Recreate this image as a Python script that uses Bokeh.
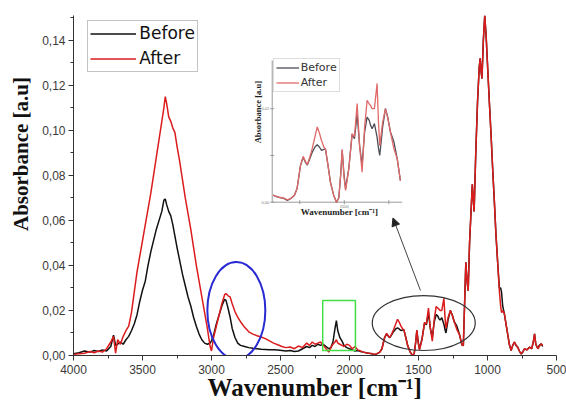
import numpy as np
from bokeh.plotting import figure
from bokeh.models import (Range1d, FixedTicker, CustomJSTickFormatter, Legend, LegendItem,
                          Label, Arrow, NormalHead)
from bokeh.core.properties import value
from bokeh.embed import file_html
from bokeh.resources import INLINE

# ---------------- data ----------------
wavenumber = [4000, 3960, 3920, 3880, 3850, 3820, 3790, 3760, 3730, 3710, 3695, 3680, 3660, 3640,
              3620, 3600, 3580, 3560, 3540, 3520, 3500, 3480, 3460, 3440, 3420, 3400, 3380, 3360,
              3345, 3335, 3325, 3310, 3295, 3280, 3265, 3250, 3230, 3210, 3190, 3170, 3150, 3130,
              3110, 3090, 3070, 3050, 3030, 3010, 3000, 2985, 2965, 2945, 2925, 2905, 2895, 2880,
              2865, 2850, 2830, 2810, 2790, 2760, 2730, 2700, 2670, 2640, 2610, 2580, 2550, 2520,
              2490, 2460, 2430, 2400, 2370, 2340, 2310, 2290, 2270, 2250, 2230, 2210, 2190, 2170,
              2150, 2135, 2120, 2105, 2095, 2085, 2070, 2055, 2040, 2020, 2000, 1980, 1960, 1940,
              1920, 1900, 1880, 1860, 1840, 1820, 1800, 1780, 1765, 1746, 1731, 1718, 1708, 1695,
              1680, 1665, 1652, 1640, 1628, 1615, 1606, 1592, 1578, 1560, 1544, 1531, 1520, 1512,
              1502, 1493, 1475, 1456, 1443, 1428, 1414, 1400, 1386, 1372, 1360, 1353, 1344, 1331,
              1316, 1308, 1301, 1285, 1269, 1255, 1241, 1222, 1203, 1185, 1175, 1165, 1157, 1148,
              1140, 1130, 1110, 1097, 1085, 1072, 1060, 1053, 1046, 1040, 1030, 1020, 1010, 999,
              987, 975, 963, 950, 939, 925, 914, 905, 898, 890, 878, 866, 854, 842, 829, 817, 805,
              793, 781, 769, 757, 745, 732, 715, 696, 680, 668, 659, 650, 635, 625, 611, 600]

before = [0.0008, 0.0012, 0.0020, 0.0015, 0.0022, 0.0018, 0.0025, 0.0020, 0.0040, 0.0090, 0.0045,
          0.0050, 0.0060, 0.0050, 0.0070, 0.0085, 0.0110, 0.0140, 0.0180, 0.0240, 0.0290, 0.0330,
          0.0400, 0.0460, 0.0510, 0.0560, 0.0600, 0.0640, 0.0690, 0.0695, 0.0670, 0.0640, 0.0620,
          0.0580, 0.0530, 0.0480, 0.0420, 0.0360, 0.0310, 0.0260, 0.0220, 0.0170, 0.0130, 0.0095,
          0.0070, 0.0055, 0.0050, 0.0055, 0.0065, 0.0090, 0.0140, 0.0180, 0.0220, 0.0250, 0.0245,
          0.0210, 0.0170, 0.0120, 0.0080, 0.0055, 0.0045, 0.0040, 0.0035, 0.0032, 0.0030, 0.0028,
          0.0027, 0.0026, 0.0025, 0.0024, 0.0022, 0.0020, 0.0022, 0.0018, 0.0020, 0.0030, 0.0040,
          0.0035, 0.0045, 0.0040, 0.0050, 0.0045, 0.0050, 0.0040, 0.0030, 0.0035, 0.0060, 0.0120,
          0.0155, 0.0110, 0.0080, 0.0065, 0.0045, 0.0035, 0.0030, 0.0025, 0.0020, 0.0022, 0.0018,
          0.0015, 0.0012, 0.0010, 0.0008, 0.0004, 0.0008, 0.0015, 0.0030, 0.0079, 0.0096, 0.0085,
          0.0079, 0.0092, 0.0107, 0.0118, 0.0123, 0.0118, 0.0111, 0.0113, 0.0114, 0.0080, 0.0043,
          0.0015, 0.0000, 0.0009, 0.0060, 0.0111, 0.0060, 0.0029, 0.0072, 0.0146, 0.0136, 0.0189,
          0.0120, 0.0080, 0.0150, 0.0182, 0.0175, 0.0165, 0.0157, 0.0168, 0.0139, 0.0115, 0.0100,
          0.0160, 0.0200, 0.0180, 0.0150, 0.0130, 0.0093, 0.0046, 0.0044, 0.0250, 0.0414, 0.0330,
          0.0288, 0.0500, 0.0760, 0.0640, 0.0900, 0.1130, 0.1280, 0.1320, 0.1260, 0.1230, 0.1400,
          0.1510, 0.1420, 0.1280, 0.1130, 0.0990, 0.0835, 0.0680, 0.0540, 0.0400, 0.0300, 0.0300,
          0.0280, 0.0220, 0.0186, 0.0140, 0.0096, 0.0050, 0.0022, 0.0045, 0.0059, 0.0045, 0.0037,
          0.0020, 0.0007, 0.0015, 0.0030, 0.0025, 0.0037, 0.0030, 0.0060, 0.0096, 0.0050, 0.0030,
          0.0045, 0.0052, 0.0040]

after = [0.0005, 0.0008, 0.0010, 0.0018, 0.0012, 0.0020, 0.0015, 0.0030, 0.0060, 0.0085, 0.0010,
         0.0070, 0.0050, 0.0085, 0.0110, 0.0130, 0.0190, 0.0280, 0.0370, 0.0440, 0.0510, 0.0580,
         0.0650, 0.0720, 0.0800, 0.0880, 0.0960, 0.1040, 0.1100, 0.1150, 0.1120, 0.1060, 0.1040,
         0.1010, 0.0990, 0.0930, 0.0860, 0.0780, 0.0700, 0.0630, 0.0560, 0.0480, 0.0400, 0.0330,
         0.0260, 0.0190, 0.0120, 0.0040, 0.0020, 0.0080, 0.0130, 0.0180, 0.0230, 0.0270, 0.0275,
         0.0265, 0.0260, 0.0230, 0.0195, 0.0170, 0.0150, 0.0125, 0.0105, 0.0095, 0.0088, 0.0082,
         0.0075, 0.0065, 0.0055, 0.0048, 0.0040, 0.0035, 0.0038, 0.0030, 0.0042, 0.0035, 0.0055,
         0.0045, 0.0060, 0.0050, 0.0055, 0.0060, 0.0045, 0.0030, 0.0015, 0.0035, 0.0050, 0.0060,
         0.0070, 0.0055, 0.0050, 0.0045, 0.0040, 0.0050, 0.0045, 0.0030, 0.0040, 0.0025, 0.0020,
         0.0015, 0.0012, 0.0010, 0.0009, 0.0005, 0.0008, 0.0015, 0.0030, 0.0079, 0.0098, 0.0087,
         0.0080, 0.0095, 0.0115, 0.0140, 0.0161, 0.0148, 0.0132, 0.0118, 0.0114, 0.0080, 0.0043,
         0.0015, 0.0000, 0.0009, 0.0062, 0.0113, 0.0055, 0.0025, 0.0070, 0.0146, 0.0140, 0.0211,
         0.0120, 0.0064, 0.0160, 0.0218, 0.0210, 0.0207, 0.0200, 0.0200, 0.0254, 0.0170, 0.0121,
         0.0170, 0.0200, 0.0178, 0.0150, 0.0115, 0.0093, 0.0046, 0.0044, 0.0250, 0.0414, 0.0330,
         0.0288, 0.0500, 0.0760, 0.0640, 0.0900, 0.1130, 0.1280, 0.1320, 0.1260, 0.1230, 0.1400,
         0.1510, 0.1420, 0.1280, 0.1130, 0.0990, 0.0835, 0.0680, 0.0540, 0.0400, 0.0288, 0.0220,
         0.0190, 0.0200, 0.0186, 0.0140, 0.0096, 0.0050, 0.0022, 0.0045, 0.0059, 0.0045, 0.0037,
         0.0020, 0.0007, 0.0015, 0.0030, 0.0025, 0.0037, 0.0030, 0.0060, 0.0096, 0.0050, 0.0030,
         0.0040, 0.0052, 0.0045]

x_ticks = [4000, 3500, 3000, 2500, 2000, 1500, 1000, 500]
x_minor = [3750, 3250, 2750, 2250, 1750, 1250, 750]
y_ticks = [0.0, 0.02, 0.04, 0.06, 0.08, 0.10, 0.12, 0.14]
y_minor = [0.01, 0.03, 0.05, 0.07, 0.09, 0.11, 0.13, 0.15]

inset_x_ticks = [1750, 1500, 1250]
inset_y_ticks = [0.0, 0.01, 0.02]
inset_y_labels = ["0,00", "", "0,02"]
inset_x_labels = ["", "1500", ""]

# ---------------- layout constants ----------------
W, H = 566, 403
ML, MR, MT, MB = 73, 10, 15, 48
FW, FH = W - ML - MR, H - MT - MB
X0, X1 = 4000, 500
Y0, Y1 = 0.0, 0.151

# inset window (fractions of the main frame) and its data extent
IFX0, IFX1 = 0.4114, 0.6805
IFY0, IFY1 = 0.4509, 0.8676
IX_L, IX_R = 1905, 1175
IY_B, IY_T = 0.0, 0.0303

RED = "#dc1c1c"

p = figure(width=W, height=H, x_range=Range1d(X0, X1), y_range=Range1d(Y0, Y1),
           output_backend="svg", toolbar_location=None,
           min_border_left=ML, min_border_right=MR, min_border_top=MT, min_border_bottom=MB)
p.outline_line_color = None
p.grid.visible = False
p.background_fill_color = "white"

for ax in (p.xaxis[0], p.yaxis[0]):
    ax.axis_line_color = "#333333"
    ax.major_tick_line_color = "#333333"
    ax.minor_tick_line_color = "#333333"
    ax.major_tick_in = 0
    ax.major_tick_out = 5
    ax.minor_tick_in = 0
    ax.minor_tick_out = 3
    ax.major_label_text_font = "Liberation Sans"
    ax.major_label_text_font_size = "12px"
    ax.major_label_text_color = "#3a3a3a"
    ax.axis_label_text_font = "Liberation Serif"
    ax.axis_label_text_font_style = "bold"
    ax.axis_label_text_color = "#111111"
p.xaxis.ticker = FixedTicker(ticks=x_ticks, minor_ticks=x_minor)
p.yaxis.ticker = FixedTicker(ticks=y_ticks, minor_ticks=y_minor)
p.yaxis.formatter = CustomJSTickFormatter(code="return tick.toFixed(2).replace('.', ',');")
p.yaxis.major_label_standoff = 3
p.xaxis.major_label_standoff = 4

p.xaxis.axis_label = "Wavenumber [cm\u207b\u00b9]"
p.xaxis.axis_label_text_font_size = "25px"
p.xaxis.axis_label_standoff = -3
# leading no-break spaces shift the visible title upward, as in the reference
p.yaxis.axis_label = "\u00a0" * 12 + "Absorbance [a.u]"
p.yaxis.axis_label_text_font_size = "21px"
p.yaxis.axis_label_standoff = 6

wn = np.array(wavenumber, dtype=float)
bf = np.array(before)
af = np.array(after)

r_before = p.line(wn, bf, line_color="#111111", line_width=1.5)
r_after = p.line(wn, af, line_color=RED, line_width=1.5)

# annotations
p.ellipse(x=[2820], y=[0.0200], width=[420], height=[0.0431], fill_color=None,
          line_color="#2a2ad2", line_width=2)
p.quad(left=[2194], right=[1957], bottom=[0.0022], top=[0.0244], fill_color=None,
       line_color="#44dd44", line_width=1.5)
p.ellipse(x=[1462], y=[0.01443], width=[746], height=[0.0244], fill_color=None,
          line_color="#333333", line_width=1.2)
p.add_layout(Arrow(end=NormalHead(size=8, fill_color="#222222", line_color="#222222"),
                   x_start=1486, y_start=0.0289, x_end=1685, y_end=0.0611,
                   line_color="#444444", line_width=1))

# main legend
leg = Legend(items=[LegendItem(label="Before", renderers=[r_before]),
                    LegendItem(label="After", renderers=[r_after])],
             location=(14.3, 283.3), orientation="vertical",
             label_text_font="DejaVu Sans", label_text_font_size="17px",
             label_text_color="#111111", glyph_width=46, glyph_height=21, label_height=21,
             label_standoff=3, spacing=4, padding=2, margin=0,
             border_line_color="#888888", border_line_width=1, background_fill_alpha=1)
p.add_layout(leg)

# ---------------- inset (own ranges mapped onto a sub-window) ----------------
sx = (IX_R - IX_L) / (IFX1 - IFX0)
sy = (IY_T - IY_B) / (IFY1 - IFY0)
p.extra_x_ranges = {"ix": Range1d(IX_L - IFX0 * sx, IX_L - IFX0 * sx + sx)}
p.extra_y_ranges = {"iy": Range1d(IY_B - IFY0 * sy, IY_B - IFY0 * sy + sy)}

p.segment(x0=[IX_L, IX_L], y0=[IY_B, IY_B], x1=[IX_L, IX_R], y1=[IY_T, IY_B],
          x_range_name="ix", y_range_name="iy", line_color="#9a9a9a", line_width=1)
p.scatter(x=inset_x_ticks, y=[IY_B] * len(inset_x_ticks), marker="dash", angle=np.pi / 2,
          size=4, line_color="#9a9a9a", x_range_name="ix", y_range_name="iy")
p.scatter(x=[IX_L] * len(inset_y_ticks), y=inset_y_ticks, marker="dash", size=4,
          line_color="#9a9a9a", x_range_name="ix", y_range_name="iy")
p.text(x=[IX_L] * len(inset_y_ticks), y=inset_y_ticks, text=inset_y_labels, x_offset=-3,
       text_align="right", text_baseline="middle", text_font=value("Liberation Sans"),
       text_font_size="4px", text_color="#777777", x_range_name="ix", y_range_name="iy")
p.text(x=inset_x_ticks, y=[IY_B] * len(inset_x_ticks), text=inset_x_labels, y_offset=3,
       text_align="center", text_baseline="top", text_font=value("Liberation Sans"),
       text_font_size="4px", text_color="#777777", x_range_name="ix", y_range_name="iy")

mask = (wn <= IX_L) & (wn >= 1183)
ib = p.line(wn[mask], bf[mask], line_color="#4d4d57", line_width=1.3,
            x_range_name="ix", y_range_name="iy")
ia = p.line(wn[mask], af[mask], line_color="#e06a6a", line_width=1.3,
            x_range_name="ix", y_range_name="iy")

ileg = Legend(items=[LegendItem(label="Before", renderers=[ib]),
                     LegendItem(label="After", renderers=[ia])],
              location=(199.7, 263.3), orientation="vertical",
              label_text_font="DejaVu Sans", label_text_font_size="11px",
              label_text_color="#333333", glyph_width=23, glyph_height=11, label_height=11,
              label_standoff=2, spacing=2, padding=2, margin=0,
              border_line_color="#bbbbbb", border_line_width=1, background_fill_alpha=1)
p.add_layout(ileg)

p.add_layout(Label(x=184.3, y=243.3, x_units="screen", y_units="screen", angle=np.pi / 2,
                   text="Absorbance [a.u]", text_font="Liberation Serif",
                   text_font_style="bold", text_font_size="8.5px", text_align="center",
                   text_baseline="middle", text_color="#222222"))
p.add_layout(Label(x=266, y=143.3, x_units="screen", y_units="screen",
                   text="Wavenumber [cm\u207b\u00b9]", text_font="Liberation Serif",
                   text_font_style="bold", text_font_size="9px", text_align="center",
                   text_baseline="middle", text_color="#222222"))

open("out.html", "w").write(file_html(p, INLINE))
